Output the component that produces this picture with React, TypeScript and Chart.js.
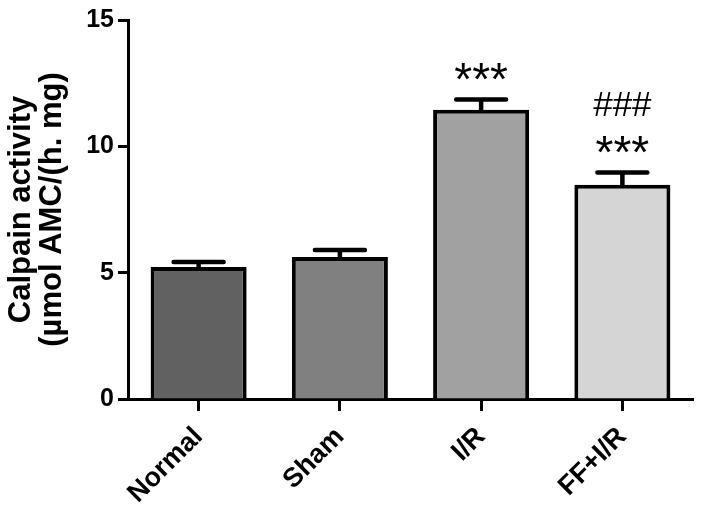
import React, { useEffect, useRef } from "react";
import { Chart, registerables } from "chart.js";

Chart.register(...registerables);

const categories = ["Normal", "Sham", "I/R", "FF+I/R"];
const meanValues = [5.22, 5.62, 11.45, 8.48];
const errorValues = [0.2, 0.28, 0.4, 0.48];
const barColors = ["#616161", "#808080", "#a1a1a1", "#d5d5d5"];
const starLabels = ["", "", "***", "***"];
const hashLabels = ["", "", "", "###"];
const yTicks = [0, 5, 10, 15];
const yTitleLines = ["Calpain activity", "(µmol AMC/(h. mg)"];

const FONT = "'Liberation Sans', Arial, sans-serif";

const errorBarPlugin = {
  id: "errorBars",
  afterDatasetsDraw(chart: any) {
    const meta = chart.getDatasetMeta(0);
    const yScale = chart.scales.y;
    const ctx = chart.ctx;
    ctx.save();
    ctx.strokeStyle = "#000";
    ctx.lineWidth = 4.5;
    ctx.lineCap = "round";
    meta.data.forEach((bar: any, i: number) => {
      const top = yScale.getPixelForValue(meanValues[i] + errorValues[i]);
      const half = bar.width * 0.26;
      ctx.beginPath();
      ctx.moveTo(bar.x, bar.y);
      ctx.lineTo(bar.x, top);
      ctx.moveTo(bar.x - half, top);
      ctx.lineTo(bar.x + half, top);
      ctx.stroke();
    });
    // annotations
    ctx.fillStyle = "#000";
    ctx.textAlign = "center";
    ctx.textBaseline = "middle";
    meta.data.forEach((bar: any, i: number) => {
      const top = yScale.getPixelForValue(meanValues[i] + errorValues[i]);
      if (starLabels[i]) {
        ctx.font = `46px ${FONT}`;
        ctx.fillText(starLabels[i], bar.x, top - 17);
      }
      if (hashLabels[i]) {
        ctx.font = `35px ${FONT}`;
        ctx.fillText(hashLabels[i], bar.x, top - 66);
      }
    });
    ctx.restore();
  },
};

export default function App() {
  const canvasRef = useRef<HTMLCanvasElement | null>(null);

  useEffect(() => {
    const canvas = canvasRef.current;
    if (!canvas) return;
    const chart = new Chart(canvas, {
      type: "bar",
      data: {
        labels: categories,
        datasets: [
          {
            data: meanValues,
            backgroundColor: barColors,
            borderColor: "#000",
            borderWidth: 4,
            borderSkipped: "start",
            categoryPercentage: 1,
            barPercentage: 0.68,
          },
        ],
      },
      options: {
        responsive: false,
        animation: false,
        devicePixelRatio: 1,
        layout: { padding: { top: 20, right: 15, left: 0, bottom: 0 } },
        plugins: {
          legend: { display: false },
          tooltip: { enabled: false },
        },
        scales: {
          x: {
            offset: true,
            grid: {
              display: true,
              drawOnChartArea: false,
              drawTicks: true,
              tickLength: 12,
              tickWidth: 3,
              tickColor: "#000",
              offset: false,
            },
            border: { display: true, color: "#000", width: 3 },
            ticks: {
              color: "#000",
              font: { family: FONT, size: 27, weight: "bold" },
              minRotation: 45,
              maxRotation: 45,
              padding: 10,
            },
            afterFit(scale: any) {
              scale.height = 118;
            },
          },
          y: {
            min: 0,
            max: 15,
            afterBuildTicks(scale: any) {
              scale.ticks = yTicks.map((v) => ({ value: v }));
            },
            grid: {
              display: true,
              drawOnChartArea: false,
              drawTicks: true,
              tickLength: 10,
              tickWidth: 3,
              tickColor: "#000",
            },
            border: { display: true, color: "#000", width: 3 },
            ticks: {
              color: "#000",
              font: { family: FONT, size: 25, weight: "bold" },
              padding: 4,
            },
            title: {
              display: true,
              text: yTitleLines,
              color: "#000",
              font: { family: FONT, size: 31, weight: "bold", lineHeight: 1.0 },
              padding: { top: 6, bottom: 0 },
            },
            afterFit(scale: any) {
              scale.width = 128;
            },
          },
        },
      },
      plugins: [errorBarPlugin],
    });
    return () => chart.destroy();
  }, []);

  return (
    <div style={{ position: "absolute", left: 0, top: 0, width: 708, height: 517, background: "#fff" }}>
      <canvas ref={canvasRef} width={708} height={517} style={{ width: 708, height: 517 }} />
    </div>
  );
}
